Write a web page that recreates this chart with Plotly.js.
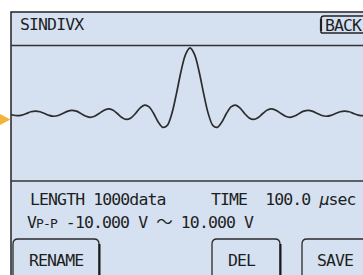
<!DOCTYPE html>
<html><head><meta charset="utf-8">
<script src="https://cdn.plot.ly/plotly-3.0.1.min.js"></script>
<style>html,body{margin:0;padding:0;background:#fff;overflow:hidden}#c{width:363px;height:275px}
#c .annotation-text{letter-spacing:-0.9px}</style>
</head><body><div id="c"></div>
<script>
// Waveform samples (time in µs, level in V)
const time_us = [0.00,0.47,1.74,3.01,4.28,5.55,6.82,8.09,9.36,10.63,11.90,13.17,14.44,15.71,16.98,18.25,19.52,20.79,22.06,23.33,24.60,25.87,27.14,28.41,29.68,30.95,32.22,33.49,34.76,36.03,37.30,38.57,39.84,41.11,42.38,43.65,44.92,46.19,47.46,48.73,50.00,51.27,52.54,53.81,55.08,56.35,57.62,58.89,60.16,61.43,62.70,63.97,65.24,66.51,67.78,69.05,70.32,71.59,72.86,74.13,75.40,76.67,77.94,79.21,80.48,81.75,83.02,84.29,85.56,86.83,88.10,89.37,90.64,91.91,93.18,94.45,95.72,96.99,98.26,99.53,100.00];
const level_V = [-0.15,-0.23,-0.33,-0.24,0.00,0.26,0.37,0.27,0.00,-0.29,-0.42,-0.31,0.00,0.33,0.49,0.36,0.00,-0.39,-0.58,-0.43,0.00,0.47,0.71,0.53,0.00,-0.60,-0.91,-0.69,0.00,0.82,1.27,1.00,0.00,-1.29,-2.12,-1.80,0.00,3.00,6.37,9.00,10.00,9.00,6.37,3.00,0.00,-1.80,-2.12,-1.29,0.00,1.00,1.27,0.82,0.00,-0.69,-0.91,-0.60,0.00,0.53,0.71,0.47,0.00,-0.43,-0.58,-0.39,0.00,0.36,0.49,0.33,0.00,-0.31,-0.42,-0.29,0.00,0.27,0.37,0.26,0.00,-0.24,-0.33,-0.23,-0.15];

const headerText = "SINDIVX";
const backText = "BACK";
const lengthText = "LENGTH 1000data";
const timeText = "TIME  100.0\u2009<i>μ</i>sec";
const vppText = "V<span style='font-size:13px'>P-P</span> -10.000 V ～ 10.000 V";
const buttonLabels = ["RENAME", "DEL", "SAVE"];

const W = 363, H = 275;
const PX = x => x / W, PY = y => 1 - y / H;
const BG = '#d5e1f1', INK = '#1e1e1e';
const FONT = {family: 'DejaVu Sans Mono, Noto Sans CJK JP', size: 16.5, color: INK};

function btnPath(x0, x1, yt, yb, r) {
  return `M${PX(x0)},${PY(yb)} L${PX(x0)},${PY(yt + r)} Q${PX(x0)},${PY(yt)} ${PX(x0 + r)},${PY(yt)} ` +
         `L${PX(x1 - r)},${PY(yt)} Q${PX(x1)},${PY(yt)} ${PX(x1)},${PY(yt + r)} L${PX(x1)},${PY(yb)} Z`;
}

const shapes = [
  {type:'rect', xref:'paper', yref:'paper', x0:PX(11), x1:PX(420), y0:PY(320), y1:PY(12),
   fillcolor:BG, line:{color:'#222', width:1.5}, layer:'below'},
  {type:'line', xref:'paper', yref:'paper', x0:PX(11), x1:PX(420), y0:PY(45.5), y1:PY(45.5),
   line:{color:'#333', width:1.3}, layer:'below'},
  {type:'line', xref:'paper', yref:'paper', x0:PX(11), x1:PX(420), y0:PY(181), y1:PY(181),
   line:{color:'#333', width:1.3}, layer:'below'},
  // orange pointer at left
  {type:'path', xref:'paper', yref:'paper',
   path:`M${PX(-2)},${PY(113)} L${PX(10.5)},${PY(119.5)} L${PX(-2)},${PY(126)} Z`,
   fillcolor:'#f3b43c', line:{width:0}, layer:'below'},
  // BACK button
  {type:'path', xref:'paper', yref:'paper', path:btnPath(321, 380, 16, 33, 3).replace(' Z','') ,
   fillcolor:BG, line:{color:'#222', width:1.4}, layer:'below'},
  {type:'line', xref:'paper', yref:'paper', x0:PX(321), x1:PX(321), y0:PY(19), y1:PY(31),
   line:{color:'#222', width:2.2}, layer:'below'},
  {type:'line', xref:'paper', yref:'paper', x0:PX(321), x1:PX(380), y0:PY(33), y1:PY(33),
   line:{color:'#222', width:1.4}, layer:'below'},
];
const btnX = [[13, 99], [212, 280], [302, 372]];
btnX.forEach(([a, b]) => {
  shapes.push({type:'path', xref:'paper', yref:'paper', path:btnPath(a, b, 239, 290, 5),
    fillcolor:BG, line:{color:'#2a2a2a', width:1.3}, layer:'below'});
  shapes.push({type:'line', xref:'paper', yref:'paper', x0:PX(b + 0.5), x1:PX(b + 0.5), y0:PY(244), y1:PY(290),
    line:{color:'#1a1a1a', width:2}, layer:'below'});
});

function ann(text, x, yc) {
  return {text, xref:'paper', yref:'paper', x:PX(x), y:PY(yc), xanchor:'left', yanchor:'middle',
          align:'left', showarrow:false, font:FONT, borderpad:0};
}
const annotations = [
  ann(headerText, 19, 24),
  ann(backText, 324, 25),
  ann(lengthText, 29, 199.5),
  ann(timeText, 210, 199.5),
  ann(vppText, 26, 222.5),
  ann(buttonLabels[0], 28, 260.5),
  ann(buttonLabels[1], 227, 260.5),
  ann(buttonLabels[2], 316, 260.5),
];

const data = [{
  x: time_us, y: level_V, type:'scatter', mode:'lines',
  line:{color:'#2c2c2c', width:1.7, shape:'spline', smoothing:0.9},
  hoverinfo:'skip', cliponaxis:true
}];

const layout = {
  width: W, height: H, margin:{l:0, r:0, t:0, b:0, pad:0},
  paper_bgcolor:'#ffffff', plot_bgcolor:'rgba(0,0,0,0)', showlegend:false,
  xaxis:{domain:[PX(11), 1], range:[0, 98.3], visible:false, fixedrange:true},
  yaxis:{domain:[PY(181), PY(46)], range:[-10.3, 10.3], visible:false, fixedrange:true},
  shapes, annotations
};
Plotly.newPlot('c', data, layout, {staticPlot:true, displayModeBar:false});
</script></body></html>
